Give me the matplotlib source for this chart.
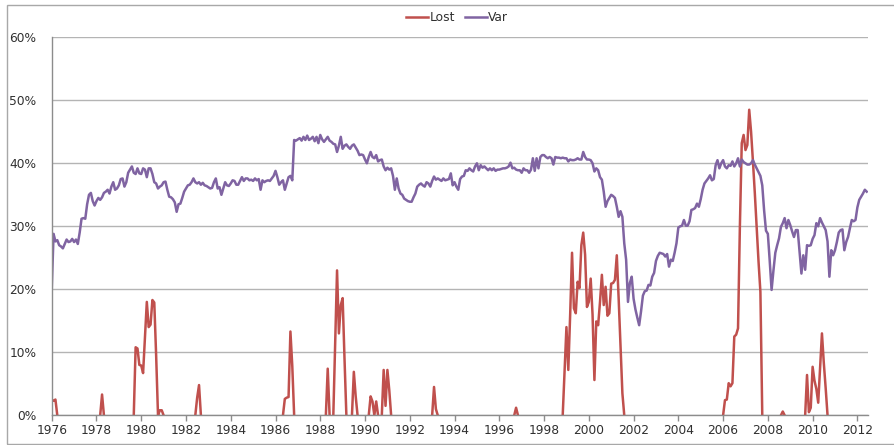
import numpy as np
import matplotlib
matplotlib.use("Agg")
import matplotlib.pyplot as plt
from matplotlib.patches import Rectangle

# monthly values in %, Jan 1976 .. Jun 2012 (one row per year)
var_pct = [
    19.8, 28.8, 27.6, 27.8, 27.0, 26.8, 26.5, 27.2, 27.9, 27.5, 27.6, 28.0,  # 1976
    27.5, 27.9, 27.2, 29.0, 31.2, 31.3, 31.2, 33.5, 35.0, 35.3, 34.0, 33.3,  # 1977
    34.0, 34.5, 34.2, 34.6, 35.3, 35.5, 35.8, 35.2, 36.3, 37.0, 35.8, 36.0,  # 1978
    36.5, 37.5, 37.6, 36.3, 37.0, 38.5, 39.0, 39.5, 38.5, 38.3, 39.2, 38.4,  # 1979
    38.3, 39.2, 39.0, 37.8, 39.2, 39.2, 38.3, 37.0, 36.8, 36.0, 36.3, 36.5,  # 1980
    37.0, 37.1, 35.8, 34.7, 34.6, 34.3, 33.8, 32.3, 33.5, 33.6, 34.5, 35.5,  # 1981
    36.0, 36.5, 36.6, 37.0, 37.6, 37.0, 36.8, 37.0, 36.6, 36.9, 36.5, 36.4,  # 1982
    36.2, 36.0, 36.1, 37.0, 37.6, 36.0, 36.2, 35.0, 36.0, 37.0, 36.5, 36.4,  # 1983
    36.8, 37.3, 37.2, 36.6, 36.6, 37.2, 37.8, 37.2, 37.6, 37.6, 37.3, 37.4,  # 1984
    37.2, 37.6, 37.3, 37.5, 35.8, 37.3, 37.0, 37.2, 37.3, 37.2, 37.6, 38.0,  # 1985
    38.8, 37.8, 36.6, 37.0, 37.3, 35.8, 36.8, 37.8, 38.0, 37.3, 43.7, 43.6,  # 1986
    43.8, 44.0, 43.6, 44.2, 43.7, 44.4, 43.7, 43.9, 44.2, 43.5, 44.2, 43.2,  # 1987
    44.5, 43.8, 43.4, 43.8, 44.2, 43.6, 43.4, 43.1, 43.0, 41.8, 42.8, 44.2,  # 1988
    42.3, 42.8, 43.0, 42.6, 42.3, 42.8, 43.0, 42.5, 42.0, 41.3, 41.4, 41.3,  # 1989
    40.6, 40.0, 41.0, 41.8, 41.0, 40.8, 41.3, 40.3, 40.5, 40.6, 39.5, 38.9,  # 1990
    39.3, 39.0, 39.2, 38.0, 35.8, 37.6, 36.0, 35.2, 35.0, 34.4, 34.2, 34.0,  # 1991
    33.9, 33.9, 34.6, 35.2, 36.3, 36.6, 36.8, 36.5, 36.3, 37.0, 36.8, 36.3,  # 1992
    37.2, 37.9, 37.4, 37.6, 37.4, 37.2, 37.6, 37.3, 37.4, 37.5, 38.4, 36.5,  # 1993
    37.0, 36.3, 35.8, 37.5, 37.9, 38.0, 38.9, 38.8, 39.2, 38.9, 38.7, 39.5,  # 1994
    40.0, 38.9, 39.7, 39.3, 39.5, 39.2, 38.9, 39.2, 38.9, 39.2, 38.8, 39.0,  # 1995
    39.0, 39.1, 39.2, 39.2, 39.3, 39.5, 40.1, 39.2, 39.3, 39.0, 38.9, 38.9,  # 1996
    38.5, 39.2, 38.9, 38.9, 38.5, 39.0, 40.8, 38.8, 40.8, 39.2, 41.0, 41.3,  # 1997
    41.3, 41.0, 40.8, 41.0, 40.8, 39.8, 41.0, 40.9, 40.9, 40.8, 40.9, 40.8,  # 1998
    40.8, 40.3, 40.6, 40.5, 40.5, 40.6, 40.8, 40.6, 40.6, 41.8, 41.0, 40.6,  # 1999
    40.6, 40.5, 40.0, 38.7, 39.2, 38.9, 37.8, 37.4, 35.5, 33.1, 34.0, 34.5,  # 2000
    35.0, 34.8, 34.5, 33.1, 31.5, 32.4, 31.5, 27.3, 24.7, 18.0, 21.0, 22.0,  # 2001
    18.5, 16.8, 15.5, 14.3, 16.5, 19.0, 19.7, 19.8, 20.7, 20.6, 22.0, 22.6,  # 2002
    24.5, 25.3, 25.8, 25.7, 25.6, 25.2, 25.6, 23.6, 24.7, 24.5, 25.8, 27.3,  # 2003
    29.8, 30.0, 30.1, 31.0, 30.1, 30.1, 30.8, 32.6, 32.7, 32.9, 33.6, 33.1,  # 2004
    34.3, 35.8, 36.8, 37.2, 37.6, 38.1, 37.3, 37.5, 39.7, 40.5, 39.2, 40.0,  # 2005
    40.5, 39.5, 39.2, 39.7, 39.6, 40.3, 39.5, 40.0, 40.8, 39.5, 40.6, 40.2,  # 2006
    40.0, 39.8, 39.8, 40.0, 40.5, 39.8, 39.2, 38.6, 38.0, 36.5, 32.5, 29.3,  # 2007
    28.8, 24.5, 19.9, 23.0, 25.8, 27.0, 28.1, 29.9, 30.5, 31.3, 29.7, 31.0,  # 2008
    30.2, 29.2, 28.3, 29.4, 29.4, 26.0, 22.5, 25.4, 23.1, 27.0, 26.9, 27.0,  # 2009
    28.0, 28.6, 30.5, 30.0, 31.3, 30.6, 30.0, 29.4, 27.6, 22.0, 26.2, 25.4,  # 2010
    26.2, 27.5, 29.0, 29.4, 29.5, 26.2, 27.5, 28.3, 29.7, 31.0, 30.8, 31.0,  # 2011
    33.0, 34.2, 34.7, 35.2, 35.8, 35.5,                                      # 2012
]

lost_pct = [
    2.5, 2.3, 2.5, 0, 0, 0, 0, 0, 0, 0, 0, 0,               # 1976
    0, 0, 0, 0, 0, 0, 0, 0, 0, 0, 0, 0,                     # 1977
    0, 0, 0, 3.3, 0, 0, 0, 0, 0, 0, 0, 0,                   # 1978
    0, 0, 0, 0, 0, 0, 0, 0, 0, 10.8, 10.6, 8.0,             # 1979
    7.9, 6.7, 12.5, 18.0, 14.0, 14.4, 18.3, 17.9, 9.5, 0, 0.8, 0.8,  # 1980
    0, 0, 0, 0, 0, 0, 0, 0, 0, 0, 0, 0,                     # 1981
    0, 0, 0, 0, 0, 0, 2.8, 4.8, 0, 0, 0, 0,                 # 1982
    0, 0, 0, 0, 0, 0, 0, 0, 0, 0, 0, 0,                     # 1983
    0, 0, 0, 0, 0, 0, 0, 0, 0, 0, 0, 0,                     # 1984
    0, 0, 0, 0, 0, 0, 0, 0, 0, 0, 0, 0,                     # 1985
    0, 0, 0, 0, 0, 2.6, 2.8, 2.9, 13.3, 7.8, 0, 0,          # 1986
    0, 0, 0, 0, 0, 0, 0, 0, 0, 0, 0, 0,                     # 1987
    0, 0, 0, 0, 7.4, 0, 0, 0, 11.5, 23.0, 13.0, 17.5,       # 1988
    18.6, 9.0, 0, 0, 0, 0, 6.9, 3.0, 0, 0, 0, 0,            # 1989
    0, 0, 0, 3.0, 2.2, 0, 2.2, 0, 0, 0, 7.2, 1.5,           # 1990
    7.2, 4.0, 0, 0, 0, 0, 0, 0, 0, 0, 0, 0,                 # 1991
    0, 0, 0, 0, 0, 0, 0, 0, 0, 0, 0, 0,                     # 1992
    0, 4.5, 1.0, 0, 0, 0, 0, 0, 0, 0, 0, 0,                 # 1993
    0, 0, 0, 0, 0, 0, 0, 0, 0, 0, 0, 0,                     # 1994
    0, 0, 0, 0, 0, 0, 0, 0, 0, 0, 0, 0,                     # 1995
    0, 0, 0, 0, 0, 0, 0, 0, 0, 1.2, 0, 0,                   # 1996
    0, 0, 0, 0, 0, 0, 0, 0, 0, 0, 0, 0,                     # 1997
    0, 0, 0, 0, 0, 0, 0, 0, 0, 0, 0, 7.0,                   # 1998
    14.0, 7.2, 16.0, 25.8, 17.0, 16.2, 21.2, 20.2, 27.0, 29.0, 25.5, 17.2,  # 1999
    18.0, 21.7, 16.0, 5.6, 14.9, 14.3, 18.0, 22.3, 17.5, 20.4, 15.8, 16.2,  # 2000
    20.9, 21.0, 21.5, 25.4, 18.5, 11.0, 3.5, 0, 0, 0, 0, 0,  # 2001
    0, 0, 0, 0, 0, 0, 0, 0, 0, 0, 0, 0,                     # 2002
    0, 0, 0, 0, 0, 0, 0, 0, 0, 0, 0, 0,                     # 2003
    0, 0, 0, 0, 0, 0, 0, 0, 0, 0, 0, 0,                     # 2004
    0, 0, 0, 0, 0, 0, 0, 0, 0, 0, 0, 0,                     # 2005
    0, 2.4, 2.5, 5.1, 4.6, 5.1, 12.5, 12.8, 13.8, 30.0, 43.2, 44.5,  # 2006
    42.1, 42.9, 48.5, 45.0, 40.3, 35.3, 29.7, 24.4, 19.6, 0, 0, 0,   # 2007
    0, 0, 0, 0, 0, 0, 0, 0, 0.6, 0, 0, 0,                   # 2008
    0, 0, 0, 0, 0, 0, 0, 0, 0, 6.4, 0.5, 1.2,               # 2009
    7.7, 5.5, 4.2, 2.0, 7.5, 13.0, 8.3, 4.3, 0, 0, 0, 0,    # 2010
    0, 0, 0, 0, 0, 0, 0, 0, 0, 0, 0, 0,                     # 2011
    0, 0, 0, 0, 0, 0,                                       # 2012
]

tick_years = list(range(1976, 2013, 2))
y_ticks = [0, 10, 20, 30, 40, 50, 60]

var = np.array(var_pct, dtype=float)
lost = np.array(lost_pct, dtype=float)
months = np.arange(len(var))

# below-zero months are clipped away in the original: only draw the flanks
pos = lost > 0
show = pos.copy()
show[1:] |= pos[:-1]
show[:-1] |= pos[1:]
lost_plot = np.where(show, lost, np.nan)

W, H = 894, 445
fig = plt.figure(figsize=(W / 100, H / 100), dpi=100)
x0, x1, ytop, ybot = 51.7, 868, 37.3, 415.3
ax = fig.add_axes([x0 / W, (H - ybot) / H, (x1 - x0) / W, (ybot - ytop) / H])

red = "#C0504D"
purple = "#8064A2"
txt = "#303030"

l1, = ax.plot(months, lost_plot, color=red, lw=1.8, solid_joinstyle="round", label="Lost")
l2, = ax.plot(months, var, color=purple, lw=1.8, solid_joinstyle="round", label="Var")

ax.set_xlim(0, (x1 - x0) / 1.865)
ax.set_ylim(0, 60)
ax.set_yticks(y_ticks)
ax.set_yticklabels([f"{v}%" for v in y_ticks])
ax.set_xticks([12 * (y - 1976) for y in tick_years])
ax.set_xticklabels([str(y) for y in tick_years])

ax.yaxis.grid(True, color="#B4B4B4", lw=1.0)
ax.set_axisbelow(True)
for s in ("top", "right"):
    ax.spines[s].set_visible(False)
for s in ("left", "bottom"):
    ax.spines[s].set_color("#8C8C8C")
    ax.spines[s].set_linewidth(1.0)

ax.tick_params(axis="x", length=4, width=1, color="#8C8C8C", pad=2.5,
               labelsize=8.8, labelcolor=txt)
ax.tick_params(axis="y", length=0, pad=11, labelsize=8.8, labelcolor=txt)

fig.legend([l1, l2], ["Lost", "Var"], loc="center",
           bbox_to_anchor=(457 / W, 1 - 17.3 / H), ncol=2, frameon=False,
           fontsize=8.8, handlelength=1.8, handletextpad=0.1,
           columnspacing=0.8, labelcolor=txt)

# chart area border
fig.patches.append(Rectangle((7 / W, 1 / H), 1.0, (443 - 4.3) / H,
                             transform=fig.transFigure, fill=False,
                             ec="#A8A8A8", lw=1.0))

fig.savefig("out.png", dpi=100)
